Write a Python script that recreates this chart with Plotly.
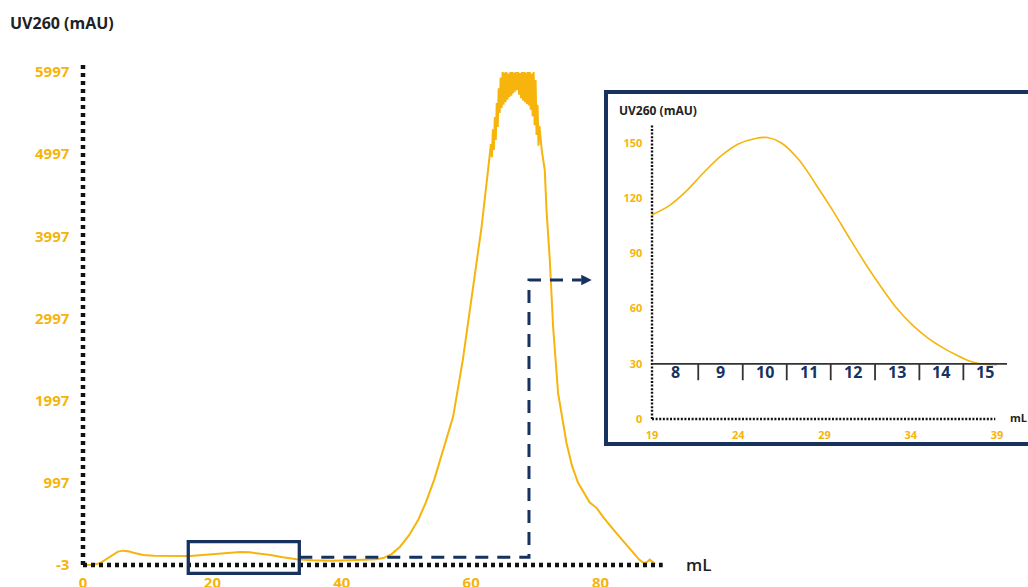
import plotly.graph_objects as go

NAVY = "#17325F"
GOLD = "#F6B40C"
INK = "#222222"
FONT = "Open Sans"

# Full run: UV260 absorbance (mAU) against elution volume (mL)
main_ml = [
    0.0, 1.5, 2.6, 3.6, 4.65, 5.4, 6.2, 7.0, 7.8, 9.3, 11.0, 12.9, 14.7, 16.5,
    18.5, 20.6, 22.5, 24.3, 25.8, 27.3, 29.0, 30.9, 33.0, 35.5, 38.6, 41.2,
    43.8, 45.3, 46.4, 47.7, 49.0, 50.4, 51.8, 53.0, 54.3, 55.7, 57.2, 58.7,
    60.2, 61.6, 62.6,
    # saturated detector region at the top of the peak
    62.9, 63.05, 63.2, 63.35, 63.5, 63.65, 63.8, 63.95, 64.1, 64.25, 64.4,
    64.55, 64.7, 64.85, 65.0, 65.15, 65.3, 65.45, 65.6, 65.75, 65.9, 66.05,
    66.2, 66.35, 66.5, 66.65, 66.8, 66.95, 67.1, 67.25, 67.4, 67.55, 67.7,
    67.85, 68.0, 68.15, 68.3, 68.45, 68.6, 68.75, 68.9, 69.05, 69.2, 69.35,
    69.5, 69.65, 69.8, 69.95, 70.1, 70.25, 70.4, 70.55,
    70.9, 71.37, 71.64, 72.15, 72.66, 73.43, 74.73, 75.6, 76.5, 78.3, 79.4,
    80.4, 82.5, 84.5, 86.0, 86.7, 87.2, 87.6, 88.0, 88.4,
]
main_mau = [
    -3, 0, 18, 70, 119, 160, 172, 165, 147, 119, 110, 107, 106, 108,
    118, 131, 146, 155, 151, 139, 118, 91, 66, 55, 49, 55,
    60, 68, 82, 130, 220, 360, 545, 760, 1040, 1400, 1800, 2490,
    3300, 4110, 4800,
    4980, 5120, 4960, 5300, 5050, 5450, 5170, 5620, 5330, 5800, 5500,
    5930, 5560, 5997, 5600, 5990, 5630, 5997, 5660, 5980, 5690, 5997,
    5710, 5997, 5740, 5990, 5760, 5997, 5780, 5997, 5720, 5985, 5680,
    5997, 5650, 5997, 5630, 5990, 5610, 5997, 5590, 5997, 5540, 5980,
    5460, 5997, 5350, 5900, 5230, 5600, 5100, 5340,
    5050, 4804, 4317, 3709, 2897, 2090, 1482, 1200, 1000, 760, 690,
    580, 380, 200, 60, 20, 35, 62, 40, 10,
]

# Zoomed window of the early elution region
zoom_ml = [
    19.0, 20.0, 21.0, 22.0, 23.0, 24.0, 25.0, 25.7, 26.5, 27.5, 28.5, 29.5,
    30.5, 31.4, 32.3, 33.2, 34.1, 35.0, 35.9, 36.7, 37.4, 38.0, 38.5, 39.0,
]
zoom_mau = [
    111, 116, 124, 134, 143, 149.5, 152.5, 153, 150, 141, 127.5, 113,
    97.5, 84, 71.5, 60, 51, 44, 38.5, 34.5, 31.5, 30, 29.5, 29.5,
]

main_yticks = [-3, 997, 1997, 2997, 3997, 4997, 5997]
main_xticks = [0, 20, 40, 60, 80]
zoom_yticks = [0, 30, 60, 90, 120, 150]
zoom_xticks = [19, 24, 29, 34, 39]

# Collected fractions shown under the zoomed trace
fraction_labels = ["8", "9", "10", "11", "12", "13", "14", "15"]
fraction_edges = [19, 21.68, 24.26, 26.81, 29.36, 31.93, 34.5, 37.05, 39.58]
fraction_level = 30

# Highlighted window on the full run and the callout leading to the inset
window_x = [16.27, 33.43]
window_y = [-104, 281]
callout_y_low = 91
callout_x_turn = 68.93
callout_y_high = 3466
callout_x_tip = 78.62

fig = go.Figure()
fig.add_trace(go.Scatter(
    x=main_ml, y=main_mau, mode="lines",
    line=dict(color=GOLD, width=2), xaxis="x", yaxis="y",
    hoverinfo="skip", showlegend=False,
))
fig.add_trace(go.Scatter(
    x=zoom_ml, y=zoom_mau, mode="lines",
    line=dict(color=GOLD, width=1.6, shape="spline", smoothing=1.0),
    xaxis="x2", yaxis="y2", hoverinfo="skip", showlegend=False,
))

shapes = []
# dotted axes, full run
shapes.append(dict(type="line", xref="x", yref="y", x0=0, x1=0, y0=-3, y1=6095,
                   line=dict(color="#111111", width=4.5, dash="4px,4px")))
shapes.append(dict(type="line", xref="x", yref="y", x0=0, x1=89.6, y0=-3, y1=-3,
                   line=dict(color="#111111", width=4.5, dash="4px,4px")))
# highlighted window
shapes.append(dict(type="rect", xref="x", yref="y",
                   x0=window_x[0], x1=window_x[1], y0=window_y[0], y1=window_y[1],
                   line=dict(color=NAVY, width=3.3)))
# dashed callout
shapes.append(dict(
    type="path", xref="x", yref="y",
    path=(f"M {window_x[1]} {callout_y_low} L {callout_x_turn} {callout_y_low} "
          f"L {callout_x_turn} {callout_y_high} L {callout_x_tip - 1.6} {callout_y_high}"),
    line=dict(color=NAVY, width=3, dash="13px,9px"),
))
# inset frame
shapes.append(dict(type="rect", xref="paper", yref="paper",
                   x0=606 / 1028, x1=1.02, y0=1 - 444 / 587, y1=1 - 92 / 587,
                   line=dict(color=NAVY, width=4), fillcolor="rgba(0,0,0,0)"))
# dotted axes, inset
shapes.append(dict(type="line", xref="x2", yref="y2", x0=19, x1=19, y0=0, y1=160.3,
                   line=dict(color="#111111", width=2.4, dash="2px,1.6px")))
shapes.append(dict(type="line", xref="x2", yref="y2", x0=19, x1=38.9, y0=0, y1=0,
                   line=dict(color="#111111", width=2.4, dash="2px,1.6px")))
# fraction bar
shapes.append(dict(type="line", xref="x2", yref="y2",
                   x0=fraction_edges[0], x1=fraction_edges[-1],
                   y0=fraction_level, y1=fraction_level,
                   line=dict(color="#333333", width=1.8)))
for edge in fraction_edges[1:-1]:
    shapes.append(dict(type="line", xref="x2", yref="y2", x0=edge, x1=edge,
                       y0=fraction_level, y1=fraction_level - 9,
                       line=dict(color="#333333", width=1.8)))

annotations = []
annotations.append(dict(text="<b>UV260 (mAU)</b>", xref="paper", yref="paper",
                        x=8 / 1028, y=1 - 23 / 587, xanchor="left", yanchor="middle",
                        showarrow=False, font=dict(family=FONT, size=16, color=INK)))
annotations.append(dict(text="mL", xref="paper", yref="paper",
                        x=684 / 1028, y=1 - 564 / 587, xanchor="left", yanchor="middle",
                        showarrow=False,
                        font=dict(family=FONT, size=17, color=INK, weight=600)))
annotations.append(dict(text="<b>UV260 (mAU)</b>", xref="paper", yref="paper",
                        x=617 / 1028, y=1 - 110 / 587, xanchor="left", yanchor="middle",
                        showarrow=False, font=dict(family=FONT, size=12, color=INK)))
annotations.append(dict(text="<b>mL</b>", xref="paper", yref="paper",
                        x=1008 / 1028, y=1 - 417 / 587, xanchor="left", yanchor="middle",
                        showarrow=False, font=dict(family=FONT, size=11, color=INK)))
annotations.append(dict(text="", xref="x", yref="y", x=callout_x_tip, y=callout_y_high,
                        axref="x", ayref="y", ax=callout_x_tip - 1.8, ay=callout_y_high,
                        showarrow=True, arrowhead=2, arrowsize=0.8, arrowwidth=2.6,
                        arrowcolor=NAVY, standoff=0))
for i, lab in enumerate(fraction_labels):
    mid = (fraction_edges[i] + fraction_edges[i + 1]) / 2
    annotations.append(dict(text=f"<b>{lab}</b>", xref="x2", yref="y2",
                            x=mid, y=fraction_level - 4.7, xanchor="center",
                            yanchor="middle", showarrow=False,
                            font=dict(family=FONT, size=16, color=NAVY)))

tick_font_main = dict(family=FONT, size=15, color=GOLD, weight="bold")
tick_font_zoom = dict(family=FONT, size=11, color=GOLD, weight="bold")

axis_common = dict(showgrid=False, zeroline=False, showline=False, ticks="",
                   automargin=False, tickmode="array")

fig.update_layout(
    width=1028, height=587,
    margin=dict(l=0, r=0, t=0, b=0, autoexpand=False),
    paper_bgcolor="white", plot_bgcolor="rgba(0,0,0,0)",
    showlegend=False,
    xaxis=dict(axis_common, domain=[73.3 / 1028, 665.3 / 1028], range=[-1.5, 90],
               tickvals=main_xticks, ticktext=[str(v) for v in main_xticks],
               tickfont=tick_font_main, anchor="y", ticklabelstandoff=-5),
    yaxis=dict(axis_common, domain=[(587 - 577.1) / 587, (587 - 63.6) / 587],
               range=[-150, 6100],
               tickvals=main_yticks, ticktext=[str(v) for v in main_yticks],
               tickfont=tick_font_main, anchor="x", ticklabelstandoff=3),
    xaxis2=dict(axis_common, domain=[643.4 / 1028, 1017.7 / 1028], range=[18.5, 40.2],
                tickvals=zoom_xticks, ticktext=[str(v) for v in zoom_xticks],
                tickfont=tick_font_zoom, anchor="y2", ticklabelstandoff=2),
    yaxis2=dict(axis_common, domain=[(587 - 424.5) / 587, (587 - 122.8) / 587],
                range=[-3, 161],
                tickvals=zoom_yticks, ticktext=[str(v) for v in zoom_yticks],
                tickfont=tick_font_zoom, anchor="x2", ticklabelstandoff=0),
    shapes=shapes,
    annotations=annotations,
)

fig.write_html("out.html")
